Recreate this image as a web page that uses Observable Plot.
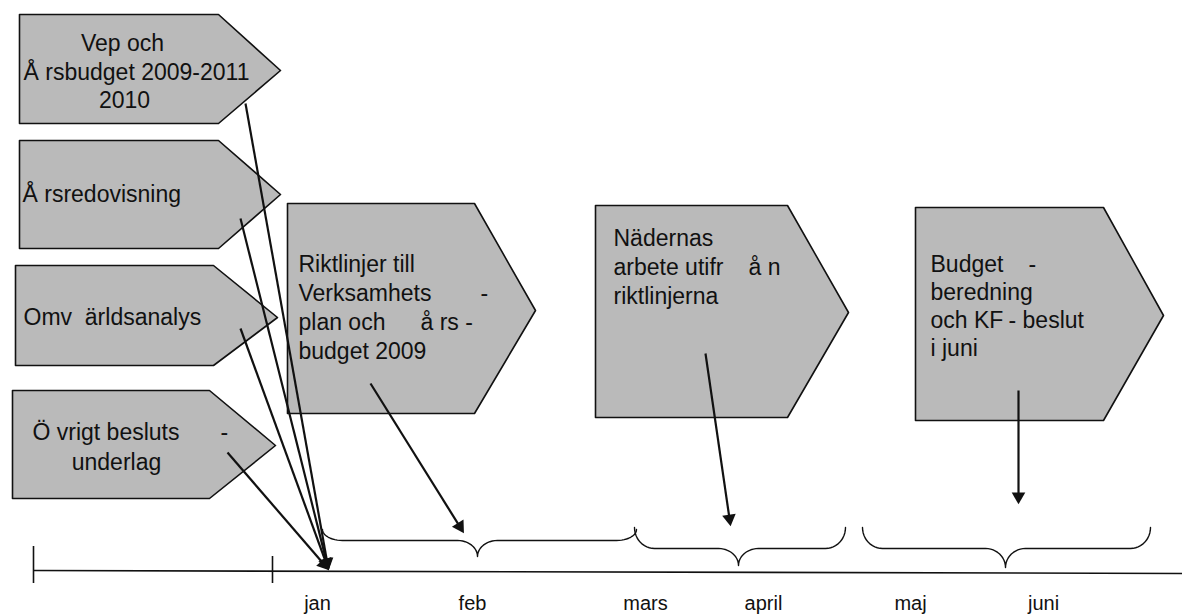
<!DOCTYPE html>
<html><head><meta charset="utf-8">
<script src="https://cdn.jsdelivr.net/npm/d3@7"></script>
<script src="https://cdn.jsdelivr.net/npm/@observablehq/plot@0.6"></script>
<style>body{margin:0;background:#fff} svg{display:block}</style>
</head><body><div id="chart"></div>
<script>
// Diagram coordinates (x to the right, y downward), one unit per reference pixel.
const boxIds   = ["vep", "arsred", "omv", "ovrigt", "rikt", "namnd", "budget"];
const boxLeft  = [19, 19, 15, 12, 287, 595, 915];
const boxRight = [218, 218, 213, 209, 474, 787, 1103];
const boxTip   = [280, 280, 277, 275, 535, 848, 1163];
const boxTop   = [14, 140, 265, 390, 203, 205, 207];
const boxBottom= [123, 248, 365, 498, 413, 417, 420];
const boxTipY  = [70, 194, 317, 445, 310, 312, 315];

const labelText = [
  "Vep och", "Å rsbudget 2009-2011", "2010",
  "Å rsredovisning",
  "Omv  ärldsanalys",
  "Ö vrigt besluts", "-", "underlag",
  "Riktlinjer till", "Verksamhets", "-", "plan och", "å rs -", "budget 2009",
  "Nädernas", "arbete utifr", "å n", "riktlinjerna",
  "Budget", "-", "beredning", "och KF", "- beslut", "i juni"
];
const labelX = [122, 136, 124, 22, 23, 32, 220, 116, 298, 298, 480, 298, 420, 298, 613, 613, 748, 613, 930, 1028, 930, 930, 1008, 930];
const labelY = [43, 72, 100, 194, 317, 432, 432, 462, 264, 293, 293, 322, 322, 351, 238, 267, 267, 296, 264, 264, 292, 320, 320, 348];
const labelCentered = [true, true, true, false, false, false, false, true,
  false, false, false, false, false, false, false, false, false, false,
  false, false, false, false, false, false];

// arrows: from a box to the time axis
const arrowX1 = [245, 240, 240, 227, 370, 705, 1018];
const arrowY1 = [103, 218, 328, 452, 383, 353, 390];
const arrowX2 = [328, 328, 328, 328, 463, 730, 1018];
const arrowY2 = [569, 569, 569, 569, 532, 525, 503];

// braces spanning months
const braceStart = [322, 634, 862];
const braceMid   = [477, 738, 1005];
const braceEnd   = [636, 845, 1150];
const braceLine  = [540, 548, 548];
const braceEndY  = [529, 527, 527];
const braceTipY  = [556, 565, 567];

// time axis
const months = ["jan", "feb", "mars", "april", "maj", "juni"];
const monthX = [317, 472, 645, 763, 910, 1043];
const axisTicks = [33, 272];

// ---- build mark data ----
const polyPts = [];
boxIds.forEach((id, i) => {
  const pts = [[boxLeft[i], boxTop[i]], [boxRight[i], boxTop[i]], [boxTip[i], boxTipY[i]],
               [boxRight[i], boxBottom[i]], [boxLeft[i], boxBottom[i]], [boxLeft[i], boxTop[i]]];
  pts.forEach(([x, y]) => polyPts.push({id, x, y}));
});

const labels = labelText.map((t, i) => ({t, x: labelX[i], y: labelY[i], c: labelCentered[i]}));
const arrows = arrowX1.map((x1, i) => {
  const x2 = arrowX2[i], y2 = arrowY2[i], y1 = arrowY1[i];
  const dx = x2 - x1, dy = y2 - y1, L = Math.hypot(dx, dy);
  const back = 7;
  return {x1, y1, x2, y2,
    hx: x2 - dx / L * back, hy: y2 - dy / L * back,
    sx: x2 - dx / L * 6, sy: y2 - dy / L * 6,
    rot: Math.atan2(dx, -dy) * 180 / Math.PI};
});

const bracePts = [];
const N = 12;
braceStart.forEach((x1, i) => {
  const xm = braceMid[i], x2 = braceEnd[i], y = braceLine[i], ye = braceEndY[i], yt = braceTipY[i];
  const r = 20;
  const add = (x, yy) => bracePts.push({id: i, x, y: yy});
  for (let k = 0; k <= N; k++) { const t = k / N * Math.PI / 2; add(x1 + r * (1 - Math.cos(t)), ye + (y - ye) * Math.sin(t)); }
  for (let k = 0; k <= N; k++) { const t = k / N * Math.PI / 2; add(xm - r + r * Math.sin(t), y + (yt - y) * (1 - Math.cos(t))); }
  for (let k = 0; k <= N; k++) { const t = k / N * Math.PI / 2; add(xm + r * (1 - Math.cos(t)), yt - (yt - y) * Math.sin(t)); }
  for (let k = 0; k <= N; k++) { const t = k / N * Math.PI / 2; add(x2 - r + r * Math.sin(t), y - (y - ye) * (1 - Math.cos(t))); }
});

const monthsData = months.map((m, i) => ({m, x: monthX[i]}));

const font = "'Liberation Sans', Arial, sans-serif";

const plot = Plot.plot({
  width: 1182,
  height: 615,
  margin: 0,
  x: {domain: [0, 1182], range: [0, 1182], axis: null},
  y: {domain: [0, 615], range: [0, 615], axis: null},
  style: {fontFamily: font, background: "#fff"},
  marks: [
    Plot.line(polyPts, {x: "x", y: "y", z: "id", fill: "#bababa", stroke: "#111", strokeWidth: 1.6, curve: "linear"}),
    Plot.text(labels.filter(d => d.c), {x: "x", y: "y", text: "t", textAnchor: "middle", fontSize: 23, fill: "#111", fontFamily: font}),
    Plot.text(labels.filter(d => !d.c), {x: "x", y: "y", text: "t", textAnchor: "start", fontSize: 23, fill: "#111", fontFamily: font}),
    Plot.line(bracePts, {x: "x", y: "y", z: "id", stroke: "#111", strokeWidth: 1.4, fill: "none"}),
    Plot.link([{x1: 33, y1: 570, x2: 1182, y2: 573}], {x1: "x1", y1: "y1", x2: "x2", y2: "y2", stroke: "#111", strokeWidth: 1.6}),
    Plot.ruleX(axisTicks, {x: d => d, y1: (d, i) => i === 0 ? 546 : 556, y2: 583, stroke: "#111", strokeWidth: 1.6}),
    Plot.link(arrows, {x1: "x1", y1: "y1", x2: "sx", y2: "sy", stroke: "#111", strokeWidth: 2.2}),
    Plot.dot(arrows, {x: "hx", y: "hy", rotate: "rot", symbol: "triangle2", r: 6.5, fill: "#111", stroke: "none"}),
    Plot.text(monthsData, {x: "x", y: 603, text: "m", fontSize: 20, fill: "#111", fontFamily: font})
  ]
});
document.getElementById("chart").appendChild(plot);
</script></body></html>
